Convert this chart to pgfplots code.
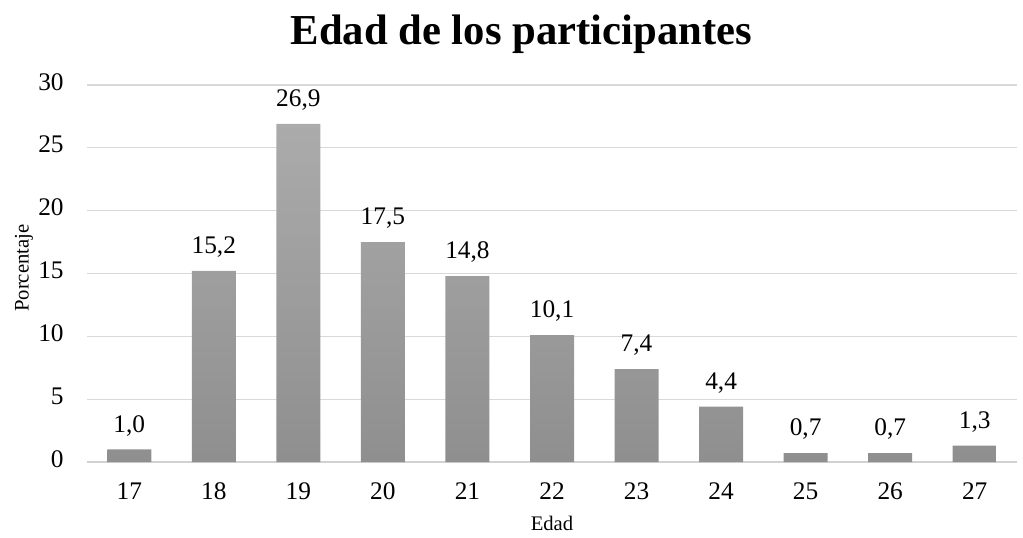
\documentclass[border=0pt]{standalone}
\usepackage{pgfplots}
\pgfplotsset{compat=1.18}
\usepackage{fontspec}
\setmainfont{Liberation Serif}

\begin{document}
\begin{tikzpicture}
\path[use as bounding box] (-65.25pt,-56.25pt) rectangle (702pt,346.5pt);
\begin{axis}[
  scale only axis,
  width=697.5pt, height=282.75pt,
  ybar, bar width=33pt,
  xmin=-0.5, xmax=10.5,
  ymin=0, ymax=30,
  xtick=data,
  xticklabels={17,18,19,20,21,22,23,24,25,26,27},
  ytick={0,5,...,30},
  ymajorgrids=true,
  grid style={draw=black!15, line width=0.9pt},
  axis x line*=bottom,
  axis y line*=left,
  y axis line style={draw=none},
  x axis line style={draw=black!18, line width=0.9pt, -},
  major tick length=0pt,
  typeset ticklabels with strut,
  tick label style={font=\fontsize{19}{19}\selectfont},
  xticklabel style={yshift=-11pt},
  yticklabel style={xshift=-14pt},
  /pgf/number format/assume math mode=true,
  xlabel={Edad},
  ylabel={Porcentaje},
  label style={font=\fontsize{15.5}{15.5}\selectfont},
  xlabel style={yshift=0pt},
  ylabel style={yshift=-3pt, xshift=4pt},
  title={Edad de los participantes},
  title style={font=\bfseries\fontsize{32}{32}\selectfont, yshift=14pt, xshift=-23pt},
  nodes near coords,
  every node near coord/.append style={font=\fontsize{19}{19}\selectfont, black,
    text height=1.6ex, text depth=0.3ex, yshift=8pt,
    /pgf/number format/.cd, fixed, fixed zerofill, precision=1, use comma, assume math mode=true},
]
\addplot[draw=none, top color=black!33, bottom color=black!44]
  coordinates {(0,1.0)(1,15.2)(2,26.9)(3,17.5)(4,14.8)(5,10.1)(6,7.4)(7,4.4)(8,0.7)(9,0.7)(10,1.3)};
\end{axis}
\end{tikzpicture}
\end{document}
